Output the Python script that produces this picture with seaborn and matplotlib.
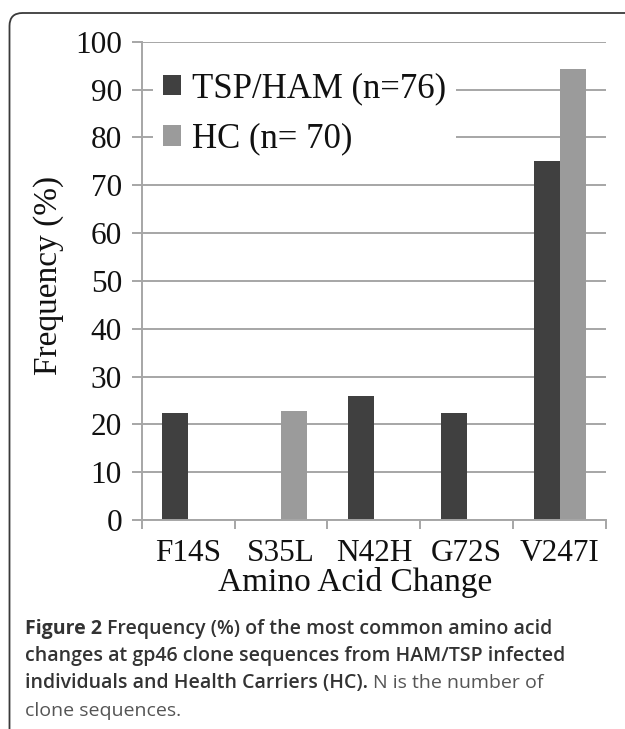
import pandas as pd
import seaborn as sns
import matplotlib
import matplotlib.pyplot as plt
from matplotlib.patches import FancyBboxPatch, Patch
from matplotlib.transforms import IdentityTransform

# values
changes = ["F14S", "S35L", "N42H", "G72S", "V247I"]
tsp_ham = [22.4, 0, 26.0, 22.4, 75.0]
hc = [0, 22.8, 0, 0, 94.2]
groups = ["TSP/HAM (n=76)", "HC (n= 70)"]
colors = ["#404040", "#9b9b9b"]

df = pd.DataFrame({
    "change": changes * 2,
    "freq": tsp_ham + hc,
    "group": [groups[0]] * len(changes) + [groups[1]] * len(changes),
})

sns.set_style("white")
plt.rcParams['font.family'] = ['Liberation Serif', 'DejaVu Serif']

W, H = 625, 729
fig = plt.figure(figsize=(W / 100, H / 100), dpi=100)
ax = fig.add_axes([141.7 / W, 1 - 520 / H, (606 - 141.7) / W, (520 - 41.7) / H])

sns.barplot(data=df, x="change", y="freq", hue="group", palette=colors,
            width=0.56, gap=0, linewidth=0, saturation=1, ax=ax, legend=False)

grid_c = "#a6a6a6"
ax.set_ylim(0, 100)
ax.set_xlim(-0.5, len(changes) - 0.5)
ax.set_yticks(range(0, 101, 10))
ax.yaxis.grid(True, color=grid_c, lw=1.4)
ax.set_axisbelow(True)
for s in ["top", "right"]:
    ax.spines[s].set_visible(False)
for s in ["left", "bottom"]:
    ax.spines[s].set_color(grid_c)
    ax.spines[s].set_linewidth(1.4)
ax.tick_params(axis="y", length=7.2, width=1.4, color=grid_c, labelsize=22.5,
               pad=7, left=True, labelcolor="#111111")
ax.tick_params(axis="x", which="major", length=0, labelsize=22.5, pad=14,
               labelcolor="#111111")
ax.set_xticks([i + 0.5 for i in range(-1, len(changes))], minor=True)
ax.tick_params(axis="x", which="minor", length=6.5, width=1.4, color=grid_c, bottom=True)
ax.set_xlabel("")
ax.set_ylabel("")

fig.text(355 / W, 1 - 582 / H, "Amino Acid Change", fontsize=24,
         ha="center", va="center", color="#111111")
fig.text(49 / W, 1 - 275 / H, "Frequency (%)", fontsize=24, rotation=90,
         ha="center", va="center", color="#111111")

handles = [Patch(facecolor=c, edgecolor="none") for c in colors]
leg = ax.legend(handles, groups, loc="upper left",
                bbox_to_anchor=((153 - 141.7) / 464.3, (520 - 62) / 478.3),
                borderaxespad=0, fontsize=25, frameon=True, fancybox=False,
                facecolor="white", edgecolor="none", framealpha=1,
                handlelength=0.52, handleheight=0.52, handletextpad=0.3,
                labelspacing=0.5, borderpad=0.3)
for t in leg.get_texts():
    t.set_color("#111111")

# frame with rounded top-left corner, running off the right and bottom
frame = FancyBboxPatch((9.5, -60), 720, H - 13 + 60,
                       boxstyle="round,pad=0,rounding_size=13",
                       transform=IdentityTransform(), facecolor="none",
                       edgecolor="#3a3a3a", lw=1.3)
fig.patches.append(frame)

# caption
cap_font = ['Open Sans', 'DejaVu Sans']
cap_c = "#333333"
x0 = 25 / W
lines_y = [629, 656, 683, 711]
t0 = fig.text(x0, 1 - lines_y[0] / H, "Figure 2", fontsize=14, fontweight="bold",
              family=cap_font, color=cap_c, va="center")
fig.canvas.draw()
r = fig.canvas.get_renderer()
bb = t0.get_window_extent(r)
fig.text((bb.x1 + 5) / W, 1 - lines_y[0] / H,
         "Frequency (%) of the most common amino acid", fontsize=14,
         fontweight="semibold", family=cap_font, color=cap_c, va="center")
fig.text(x0, 1 - lines_y[1] / H,
         "changes at gp46 clone sequences from HAM/TSP infected", fontsize=14,
         fontweight="semibold", family=cap_font, color=cap_c, va="center")
t2 = fig.text(x0, 1 - lines_y[2] / H,
              "individuals and Health Carriers (HC).", fontsize=14,
              fontweight="semibold", family=cap_font, color=cap_c, va="center")
fig.canvas.draw()
bb = t2.get_window_extent(r)
fig.text((bb.x1 + 5) / W, 1 - lines_y[2] / H, "N is the number of",
         fontsize=14, family=cap_font, color="#555555", va="center")
fig.text(x0, 1 - lines_y[3] / H, "clone sequences.", fontsize=14,
         family=cap_font, color="#555555", va="center")

fig.savefig("out.png", dpi=100)
